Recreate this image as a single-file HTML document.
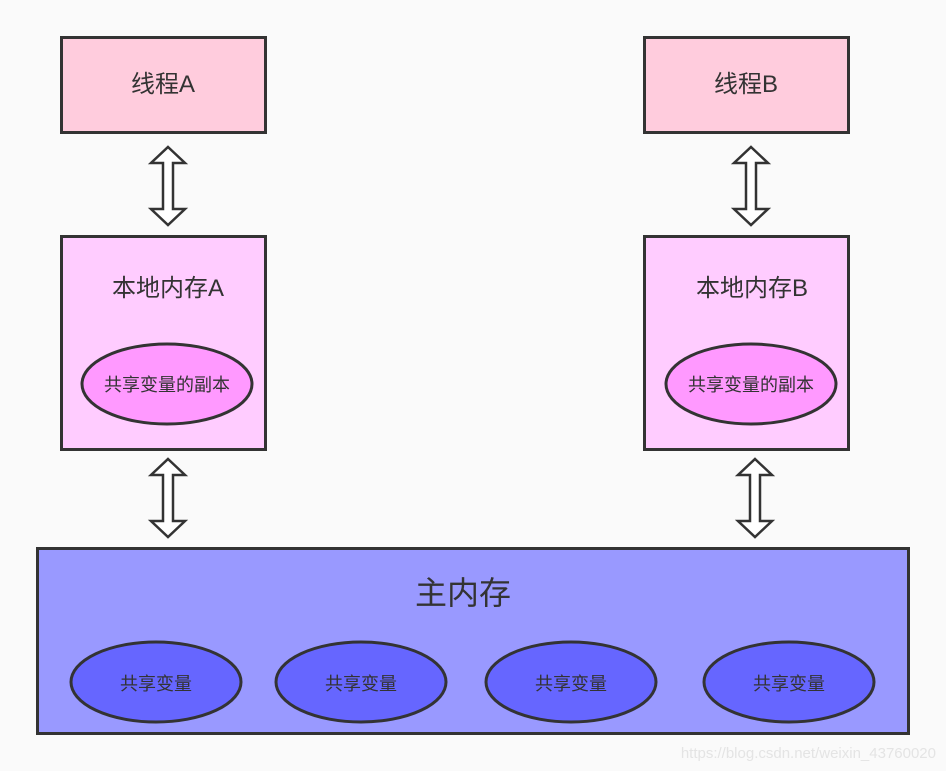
<!DOCTYPE html>
<html><head><meta charset="utf-8"><style>
html,body{margin:0;padding:0;background:#fafafa;}
svg{display:block;}
text{font-family:"Liberation Sans","Noto Sans CJK SC",sans-serif;fill:#333;}
</style></head><body>
<svg width="946" height="771" viewBox="0 0 946 771" xmlns="http://www.w3.org/2000/svg">
<rect width="946" height="771" fill="#fafafa"/>
<g stroke="#333" stroke-width="3">
<rect x="61.5" y="37.5" width="204" height="95" fill="#ffccdd"/>
<rect x="644.5" y="37.5" width="204" height="95" fill="#ffccdd"/>
<rect x="61.5" y="236.5" width="204" height="213" fill="#ffccff"/>
<rect x="644.5" y="236.5" width="204" height="213" fill="#ffccff"/>
<ellipse cx="167" cy="384" rx="85" ry="40" fill="#ff99ff"/>
<ellipse cx="751" cy="384" rx="85" ry="40" fill="#ff99ff"/>
<rect x="37.5" y="548.5" width="871" height="185" fill="#9999ff"/>
<ellipse cx="156" cy="682" rx="85" ry="40" fill="#6666ff"/>
<ellipse cx="361" cy="682" rx="85" ry="40" fill="#6666ff"/>
<ellipse cx="571" cy="682" rx="85" ry="40" fill="#6666ff"/>
<ellipse cx="789" cy="682" rx="85" ry="40" fill="#6666ff"/>
</g>
<g stroke="#333" stroke-width="2.5" fill="#fff" stroke-linejoin="miter">
<path d="M168 147 L185 163 L173 163 L173 209 L185 209 L168 225 L151 209 L163 209 L163 163 L151 163 Z"/>
<path d="M751 147 L768 163 L756 163 L756 209 L768 209 L751 225 L734 209 L746 209 L746 163 L734 163 Z"/>
<path d="M168 459 L185 475 L173 475 L173 521 L185 521 L168 537 L151 521 L163 521 L163 475 L151 475 Z"/>
<path d="M755 459 L772 475 L760 475 L760 521 L772 521 L755 537 L738 521 L750 521 L750 475 L738 475 Z"/>
</g>
<g text-anchor="middle">
<text x="163" y="92" font-size="24">线程A</text>
<text x="746" y="92" font-size="24">线程B</text>
<text x="168" y="296" font-size="24">本地内存A</text>
<text x="752" y="296" font-size="24">本地内存B</text>
<text x="167" y="391" font-size="18">共享变量的副本</text>
<text x="751" y="391" font-size="18">共享变量的副本</text>
<text x="463" y="604" font-size="32">主内存</text>
<text x="156" y="690" font-size="18">共享变量</text>
<text x="361" y="690" font-size="18">共享变量</text>
<text x="571" y="690" font-size="18">共享变量</text>
<text x="789" y="690" font-size="18">共享变量</text>
</g>
<text x="936" y="758" font-size="15" text-anchor="end" style="fill:#e4e4e4">https://blog.csdn.net/weixin_43760020</text>
</svg>
</body></html>
